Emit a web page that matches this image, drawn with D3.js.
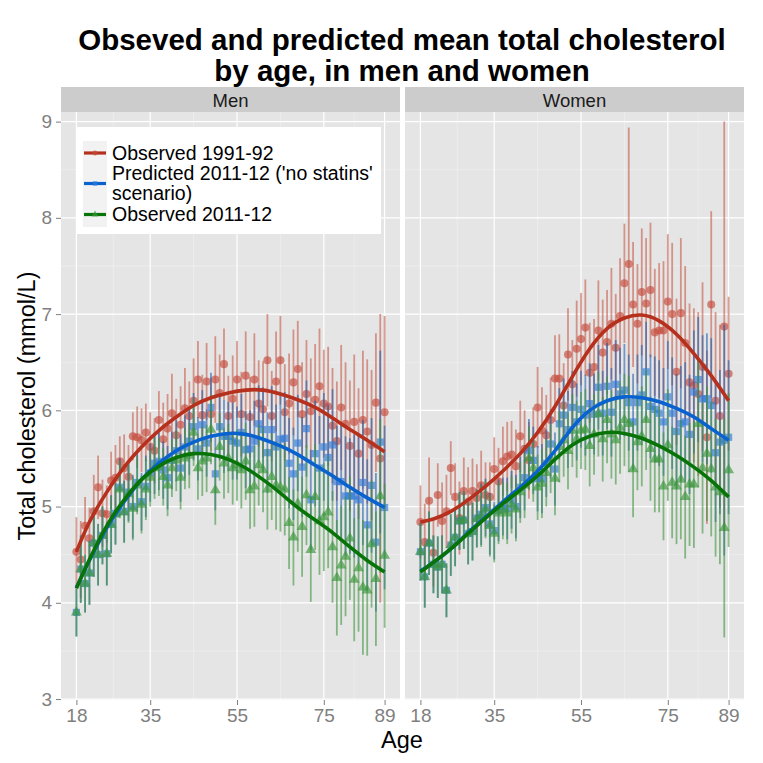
<!DOCTYPE html>
<html><head><meta charset="utf-8">
<script src="https://cdn.jsdelivr.net/npm/d3@7/dist/d3.min.js"></script>
<style>body{margin:0;background:#fff}svg{display:block}text{font-family:"Liberation Sans",Arial,Helvetica,sans-serif}</style>
</head><body>
<svg id="c" width="763" height="763"></svg>
<script>
// ---------- DATA ----------
const ages = [18,19,20,21,22,23,24,25,26,27,28,29,30,31,32,33,34,35,36,37,38,39,40,41,42,43,44,45,46,47,48,49,50,51,52,53,
  54,55,56,57,58,59,60,61,62,63,64,65,66,67,68,69,70,71,72,73,74,75,76,77,78,79,80,81,82,83,84,85,86,87,88,89];
const panelNames = ["Men", "Women"];
const seriesNames = ["Observed 1991-92", "Predicted 2011-12 ('no statins'", "Observed 2011-12"];
const xTicks = [18, 35, 55, 75, 89];
const xMinor = [26.5, 45, 65, 82];
const yTicks = [3, 4, 5, 6, 7, 8, 9];
const yMinor = [3.5, 4.5, 5.5, 6.5, 7.5, 8.5];

// Men means and half-widths of error bars
const menRed = [4.53,4.45,4.80,4.67,4.95,5.20,4.93,4.92,5.27,5.30,
 5.47,5.40,5.31,5.73,5.72,5.69,5.77,5.62,5.58,5.90,
 5.70,5.81,5.97,5.74,5.85,6.02,5.94,6.10,6.32,5.95,
 6.30,5.96,6.32,6.18,6.48,5.94,6.12,6.32,5.96,6.36,
 5.93,6.32,6.07,6.01,6.52,5.94,6.30,6.52,5.98,6.07,
 6.29,6.43,5.96,6.17,5.99,6.11,6.25,6.07,6.04,5.84,
 5.68,6.03,5.86,5.63,5.88,5.55,5.90,5.78,5.64,6.08,
 5.50,5.98];
const menRedErr = [0.36,0.40,0.30,0.32,0.38,0.33,0.35,0.30,0.30,0.34,
 0.26,0.35,0.33,0.25,0.32,0.33,0.30,0.36,0.34,0.30,
 0.38,0.36,0.41,0.38,0.40,0.42,0.36,0.44,0.40,0.42,
 0.40,0.38,0.45,0.40,0.37,0.42,0.45,0.40,0.44,0.46,
 0.42,0.48,0.45,0.50,0.48,0.47,0.52,0.46,0.50,0.52,
 0.55,0.50,0.54,0.56,0.55,0.58,0.60,0.56,0.62,0.60,
 0.62,0.65,0.64,0.68,0.70,0.68,0.72,0.75,0.78,0.72,
 1.50,1.00];
const menBlue = [3.90,4.35,4.20,4.31,4.62,4.50,4.70,4.51,4.82,4.93,
 5.20,4.95,5.15,5.00,5.25,5.05,5.21,5.35,5.45,5.47,
 5.38,5.30,5.48,5.58,5.40,5.62,5.68,5.83,5.60,5.85,
 5.66,6.03,5.34,5.83,5.73,5.73,5.68,5.66,5.77,5.59,
 5.60,5.68,5.86,5.80,5.56,5.80,5.62,5.70,5.71,5.45,
 5.34,5.66,5.41,5.81,5.07,5.55,5.40,5.62,5.51,5.64,
 5.26,5.26,5.11,5.11,5.11,5.07,5.25,4.81,5.22,4.63,
 5.67,4.99];
const menBlueErr = [0.25,0.35,0.30,0.33,0.35,0.32,0.30,0.33,0.30,0.32,
 0.30,0.32,0.30,0.33,0.30,0.30,0.32,0.30,0.32,0.30,
 0.30,0.33,0.30,0.32,0.35,0.33,0.35,0.35,0.33,0.36,
 0.35,0.36,0.38,0.35,0.38,0.36,0.40,0.38,0.40,0.40,
 0.40,0.42,0.40,0.44,0.42,0.45,0.44,0.46,0.48,0.47,
 0.48,0.50,0.52,0.50,0.52,0.55,0.54,0.56,0.55,0.58,
 0.58,0.60,0.62,0.60,0.64,0.66,0.65,0.68,0.70,0.72,
 0.95,0.85];
const menGreen = [3.90,4.35,4.20,4.31,4.62,4.50,4.70,4.51,4.81,4.92,
 5.18,4.94,5.13,4.98,5.22,5.02,5.18,5.30,5.40,5.41,
 5.31,5.22,5.40,5.48,5.30,5.50,5.53,5.77,5.40,5.47,
 5.50,5.80,5.17,5.62,5.45,5.50,5.40,5.43,5.38,5.47,
 5.17,5.21,5.43,5.38,5.18,5.31,5.22,5.20,5.18,4.83,
 4.68,5.03,4.79,5.12,4.55,5.10,4.85,4.89,4.94,4.58,
 4.26,4.39,4.48,4.67,4.24,4.36,4.16,4.13,4.61,4.25,
 5.11,4.49];
const menGreenErr = [0.25,0.35,0.30,0.33,0.35,0.32,0.30,0.33,0.30,0.32,
 0.30,0.32,0.30,0.33,0.30,0.30,0.32,0.30,0.32,0.30,
 0.30,0.32,0.30,0.32,0.33,0.32,0.34,0.35,0.33,0.36,
 0.35,0.36,0.36,0.35,0.37,0.36,0.38,0.37,0.40,0.40,
 0.40,0.42,0.42,0.44,0.42,0.45,0.46,0.46,0.48,0.48,
 0.50,0.50,0.52,0.52,0.54,0.55,0.56,0.56,0.58,0.58,
 0.60,0.62,0.62,0.64,0.64,0.66,0.70,0.68,0.66,0.70,
 0.80,0.75];

// Women means and half-widths
const womenRed = [4.84,4.63,5.06,4.52,5.12,4.85,4.95,5.40,5.10,4.88,
 5.16,5.05,5.16,5.09,5.22,5.12,5.10,5.39,5.26,5.47,
 5.52,5.54,5.42,5.73,5.60,5.48,5.65,6.03,5.79,5.74,
 5.90,6.33,6.33,6.05,6.58,6.27,6.64,6.74,6.86,6.39,
 6.45,6.83,6.60,6.71,6.90,6.65,6.98,7.32,7.52,7.10,
 6.90,7.23,7.11,7.25,6.81,6.83,6.83,7.13,7.00,6.40,
 7.01,6.70,6.29,6.26,6.17,6.45,5.72,7.10,6.10,5.94,
 6.87,6.38];
const womenRedErr = [0.38,0.40,0.45,0.35,0.33,0.40,0.38,0.28,0.35,0.38,
 0.35,0.36,0.34,0.35,0.36,0.34,0.36,0.33,0.35,0.36,
 0.36,0.35,0.38,0.37,0.40,0.40,0.38,0.42,0.45,0.42,
 0.44,0.45,0.46,0.44,0.48,0.46,0.50,0.48,0.50,0.52,
 0.50,0.52,0.55,0.54,0.58,0.56,0.60,0.62,1.42,0.65,
 0.62,0.66,0.68,0.70,0.66,0.70,0.72,0.70,0.74,0.76,
 0.78,0.80,0.82,0.80,0.85,0.88,0.90,0.97,0.92,0.95,
 2.13,0.80];
const womenBlue = [4.53,4.27,4.62,4.40,4.37,4.40,4.13,4.60,4.68,4.85,
 4.86,4.72,4.74,4.88,4.92,4.99,4.82,4.75,4.96,5.00,
 4.98,5.07,5.00,5.20,5.30,5.58,5.48,5.29,5.29,5.45,
 5.65,5.39,5.86,5.95,5.80,6.03,5.88,6.01,5.95,6.07,
 5.96,6.24,5.97,6.25,5.98,6.27,6.17,6.21,6.08,5.88,
 6.08,6.16,6.40,6.04,6.01,5.97,5.88,6.14,5.97,5.78,
 5.86,5.88,5.75,6.19,6.32,6.12,6.12,6.05,5.56,5.67,
 5.69,5.72];
const womenBlueErr = [0.30,0.32,0.33,0.30,0.32,0.30,0.28,0.32,0.30,0.30,
 0.30,0.32,0.30,0.30,0.32,0.30,0.32,0.30,0.32,0.30,
 0.32,0.30,0.33,0.32,0.34,0.33,0.35,0.34,0.36,0.35,
 0.36,0.38,0.37,0.38,0.40,0.38,0.40,0.40,0.42,0.42,
 0.42,0.44,0.44,0.45,0.46,0.46,0.48,0.48,0.50,0.50,
 0.50,0.52,0.52,0.54,0.55,0.55,0.56,0.58,0.58,0.60,
 0.60,0.62,0.62,0.64,0.65,0.66,0.68,0.70,0.72,0.75,
 1.20,0.80];
const womenGreen = [4.53,4.27,4.62,4.40,4.37,4.40,4.13,4.60,4.68,4.85,
 4.86,4.72,4.74,4.87,4.90,4.97,4.80,4.72,4.93,4.96,
 4.93,5.02,4.97,5.15,5.22,5.50,5.40,5.20,5.24,5.35,
 5.50,5.29,5.62,5.69,5.58,5.79,5.70,5.79,5.80,5.63,
 5.75,5.96,5.70,5.90,5.75,5.69,5.82,5.90,5.86,5.39,
 5.67,5.73,5.90,5.60,5.49,5.49,5.21,5.64,5.25,5.21,
 5.28,5.10,5.23,5.23,5.86,5.40,5.55,5.39,5.20,5.15,
 4.78,5.38];
const womenGreenErr = [0.30,0.32,0.33,0.30,0.32,0.30,0.28,0.32,0.30,0.30,
 0.30,0.32,0.30,0.30,0.32,0.30,0.32,0.30,0.32,0.30,
 0.32,0.30,0.33,0.32,0.34,0.33,0.35,0.34,0.36,0.35,
 0.36,0.38,0.37,0.38,0.40,0.38,0.40,0.40,0.42,0.42,
 0.42,0.44,0.44,0.45,0.46,0.46,0.48,0.48,0.50,0.50,
 0.50,0.52,0.52,0.54,0.55,0.55,0.56,0.58,0.58,0.60,
 0.62,0.64,0.64,0.66,0.66,0.68,0.70,0.70,0.72,0.75,
 1.14,0.80];

// Smoothed curves (read at knot ages)
const smoothAges = [18,21,25,29,33,37,41,45,49,53,57,61,65,69,73,77,81,85,89];
const menRedSmooth   = [4.53,4.84,5.15,5.41,5.62,5.79,5.93,6.05,6.13,6.18,6.21,6.21,6.17,6.11,6.03,5.92,5.80,5.69,5.57];
const menBlueSmooth  = [4.16,4.44,4.78,5.05,5.28,5.45,5.58,5.67,5.73,5.76,5.75,5.70,5.63,5.54,5.43,5.32,5.20,5.09,4.99];
const menGreenSmooth = [4.15,4.45,4.80,5.07,5.28,5.42,5.51,5.55,5.54,5.49,5.40,5.28,5.14,4.99,4.86,4.73,4.58,4.44,4.32];
const womenRedSmooth   = [4.84,4.87,4.95,5.07,5.21,5.37,5.55,5.77,6.04,6.35,6.64,6.85,6.96,6.99,6.93,6.79,6.59,6.36,6.10];
const womenBlueSmooth  = [4.33,4.42,4.56,4.73,4.89,5.05,5.20,5.37,5.58,5.82,6.00,6.10,6.14,6.13,6.09,6.02,5.93,5.81,5.69];
const womenGreenSmooth = [4.32,4.42,4.56,4.72,4.88,5.03,5.17,5.32,5.49,5.64,5.73,5.77,5.76,5.71,5.63,5.53,5.41,5.27,5.10];

// ---------- STYLE ----------
const col = {
  red:   {line:"#b5301d", pt:"#c44a3a", bar:"#c75a4a"},
  blue:  {line:"#0a62cf", pt:"#2f7ad8", bar:"#1f5fae"},
  green: {line:"#087408", pt:"#3a963a", bar:"#3f943f"}
};
const svg = d3.select("#c");
const FONT = '"Liberation Sans",Arial,Helvetica,sans-serif';
const panelTop = 112, panelBot = 700;
const y = d3.scaleLinear().domain([2.99, 9.1]).range([panelBot, panelTop]);

const panels = [
  {name: panelNames[0], x0: 61, x1: 400,
   series: [
    {key:"red", m: menRed, e: menRedErr, s: menRedSmooth, shape: d3.symbolCircle, size: 52},
    {key:"blue", m: menBlue, e: menBlueErr, s: menBlueSmooth, shape: d3.symbolSquare, size: 52},
    {key:"green", m: menGreen, e: menGreenErr, s: menGreenSmooth, shape: d3.symbolTriangle, size: 52}]},
  {name: panelNames[1], x0: 405, x1: 744,
   series: [
    {key:"red", m: womenRed, e: womenRedErr, s: womenRedSmooth, shape: d3.symbolCircle, size: 52},
    {key:"blue", m: womenBlue, e: womenBlueErr, s: womenBlueSmooth, shape: d3.symbolSquare, size: 52},
    {key:"green", m: womenGreen, e: womenGreenErr, s: womenGreenSmooth, shape: d3.symbolTriangle, size: 52}]}
];

// Title
svg.append("text").attr("x", 402).attr("y", 50).attr("text-anchor","middle")
  .attr("font-size", 29.5).attr("font-weight","bold").attr("fill","#000")
  .text("Obseved and predicted mean total cholesterol");
svg.append("text").attr("x", 402).attr("y", 81).attr("text-anchor","middle")
  .attr("font-size", 29.5).attr("font-weight","bold").attr("fill","#000")
  .text("by age, in men and women");

panels.forEach((p, pi) => {
  const x = d3.scaleLinear().domain([14.45, 92.55]).range([p.x0, p.x1]);
  const g = svg.append("g");
  // strip
  g.append("rect").attr("x", p.x0).attr("y", 87).attr("width", p.x1 - p.x0).attr("height", 25).attr("fill", "#cccccc");
  g.append("text").attr("x", (p.x0 + p.x1)/2).attr("y", 106.5).attr("text-anchor","middle")
    .attr("font-size", 18.5).attr("fill","#1a1a1a").text(p.name);
  // panel bg
  g.append("rect").attr("x", p.x0).attr("y", panelTop).attr("width", p.x1 - p.x0).attr("height", panelBot - panelTop).attr("fill", "#e5e5e5");
  // minor grid
  g.selectAll(".ymin").data(yMinor).enter().append("line")
    .attr("x1", p.x0).attr("x2", p.x1).attr("y1", d => y(d)).attr("y2", d => y(d))
    .attr("stroke", "#f2f2f2").attr("stroke-width", 0.6);
  g.selectAll(".xmin").data(xMinor).enter().append("line")
    .attr("y1", panelTop).attr("y2", panelBot).attr("x1", d => x(d)).attr("x2", d => x(d))
    .attr("stroke", "#f2f2f2").attr("stroke-width", 0.6);
  // major grid
  g.selectAll(".ymaj").data(yTicks).enter().append("line")
    .attr("x1", p.x0).attr("x2", p.x1).attr("y1", d => y(d)).attr("y2", d => y(d))
    .attr("stroke", "#ffffff").attr("stroke-width", 1.2);
  g.selectAll(".xmaj").data(xTicks).enter().append("line")
    .attr("y1", panelTop).attr("y2", panelBot).attr("x1", d => x(d)).attr("x2", d => x(d))
    .attr("stroke", "#ffffff").attr("stroke-width", 1.2);

  // x axis
  const xa = svg.append("g").attr("transform", `translate(0,${panelBot})`)
    .call(d3.axisBottom(x).tickValues(xTicks).tickSize(5).tickPadding(4).tickFormat(d3.format("d")));
  xa.select(".domain").remove();
  xa.selectAll("line").attr("stroke", "#7f7f7f");
  xa.selectAll("text").attr("fill", "#7f7f7f").attr("font-size", 19).attr("font-family", FONT);

  if (pi === 0) {
    const ya = svg.append("g").attr("transform", `translate(${p.x0},0)`)
      .call(d3.axisLeft(y).tickValues(yTicks).tickSize(5).tickPadding(4).tickFormat(d3.format("d")));
    ya.select(".domain").remove();
    ya.selectAll("line").attr("stroke", "#7f7f7f");
    ya.selectAll("text").attr("fill", "#7f7f7f").attr("font-size", 19).attr("font-family", FONT);
  }

  const clipId = "clip" + pi;
  svg.append("clipPath").attr("id", clipId).append("rect")
    .attr("x", p.x0).attr("y", panelTop).attr("width", p.x1 - p.x0).attr("height", panelBot - panelTop);
  const dg = svg.append("g").attr("clip-path", `url(#${clipId})`);

  // point ranges
  p.series.forEach(s => {
    const c = col[s.key];
    const sg = dg.append("g");
    sg.selectAll("line").data(ages).enter().append("line")
      .attr("x1", (a) => x(a)).attr("x2", (a) => x(a))
      .attr("y1", (a, i) => y(s.m[i] - s.e[i])).attr("y2", (a, i) => y(s.m[i] + s.e[i]))
      .attr("stroke", c.bar).attr("stroke-opacity", 0.6).attr("stroke-width", 1.8);
    sg.selectAll("path").data(ages).enter().append("path")
      .attr("transform", (a, i) => `translate(${x(a)},${y(s.m[i])})`)
      .attr("d", d3.symbol().type(s.shape).size(s.size))
      .attr("fill", c.pt).attr("fill-opacity", 0.65);
  });
  // smooth lines
  p.series.forEach(s => {
    const pts = smoothAges.map((a, i) => [x(a), y(s.s[i])]);
    dg.append("path").attr("d", d3.line().curve(d3.curveNatural)(pts))
      .attr("fill", "none").attr("stroke", col[s.key].line).attr("stroke-width", 3.6)
      .attr("stroke-linecap", "butt");
  });

  if (pi === 0) {
    // legend
    const lg = svg.append("g");
    lg.append("rect").attr("x", 76).attr("y", 127).attr("width", 305).attr("height", 107).attr("fill", "#ffffff");
    const keys = [
      {k:"red", y0:141, h:24, shape:d3.symbolCircle, lines:[seriesNames[0]], ty:[160]},
      {k:"blue", y0:165, h:37, shape:d3.symbolSquare, lines:[seriesNames[1], "scenario)"], ty:[180, 200]},
      {k:"green", y0:202, h:25, shape:d3.symbolTriangle, lines:[seriesNames[2]], ty:[220.5]}
    ];
    keys.forEach(k => {
      lg.append("rect").attr("x", 83).attr("y", k.y0).attr("width", 24).attr("height", k.h).attr("fill", "#f2f2f2");
      const cy = k.y0 + k.h/2;
      lg.append("line").attr("x1", 84).attr("x2", 106).attr("y1", cy).attr("y2", cy)
        .attr("stroke", col[k.k].line).attr("stroke-width", 3.2);
      lg.append("path").attr("transform", `translate(95,${cy})`)
        .attr("d", d3.symbol().type(k.shape).size(20)).attr("fill", col[k.k].pt).attr("fill-opacity", 0.7);
      k.lines.forEach((t, j) => {
        lg.append("text").attr("x", 112).attr("y", k.ty[j]).attr("font-size", 19.5).attr("fill", "#000").text(t);
      });
    });
  }
});

// axis titles
svg.append("text").attr("x", 402).attr("y", 748).attr("text-anchor","middle")
  .attr("font-size", 23.5).attr("fill","#000").text("Age");
svg.append("text").attr("transform", "translate(35,406) rotate(-90)").attr("text-anchor","middle")
  .attr("font-size", 23.5).attr("fill","#000").text("Total cholesterol (mmol/L)");
</script>
</body></html>
